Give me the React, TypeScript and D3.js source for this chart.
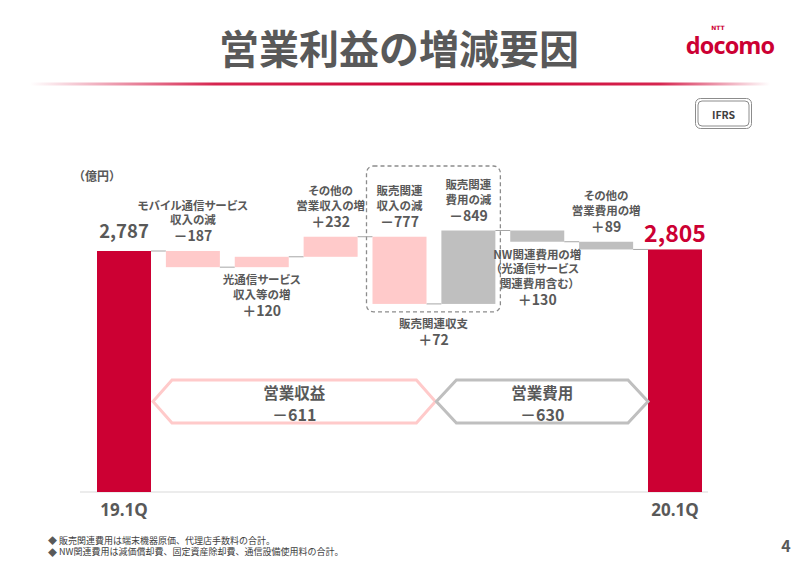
import React from 'react';
import * as d3 from 'd3';

const categories = ['19.1Q', 'モバイル通信サービス収入', '光通信サービス収入等', 'その他の営業収入', '販売関連収入', '販売関連費用', 'NW関連費用', 'その他の営業費用', '20.1Q'];
const kinds = ['total', 'revenue', 'revenue', 'revenue', 'revenue', 'cost', 'cost', 'cost', 'total'];
const values = [2787, -187, 120, 232, -777, 849, -130, -89, 2805];
const valueLabels = ['2,787', '－187', '＋120', '＋232', '－777', '－849', '＋130', '＋89', '2,805'];
const labelLines = [
  [],
  ['モバイル通信サービス', '収入の減'],
  ['光通信サービス', '収入等の増'],
  ['その他の', '営業収入の増'],
  ['販売関連', '収入の減'],
  ['販売関連', '費用の減'],
  ['NW関連費用の増', '（光通信サービス', '関連費用含む）'],
  ['その他の', '営業費用の増'],
  [],
];
const labelSide = ['top', 'top', 'bottom', 'top', 'top', 'top', 'bottom', 'top', 'top'];
const axisLabels = ['19.1Q', '20.1Q'];
const groupNames = ['営業収益', '営業費用'];
const groupValues = ['－611', '－630'];
const salesBoxLabels = ['販売関連収支', '＋72'];
const unitLabel = '（億円）';
const titleText = '営業利益の増減要因';
const footnotes = ['販売関連費用は端末機器原価、代理店手数料の合計。', 'NW関連費用は減価償却費、固定資産除却費、通信設備使用料の合計。'];
const pageNumber = '4';

const FONT = "'Noto Sans CJK JP', 'Noto Sans', sans-serif";
const GRAY_TEXT = '#595959';
const RED = '#CC0033';
const PINK = '#FFCACA';
const GRAY = '#BFBFBF';

export default function App() {
  const y = d3.scaleLinear().domain([0, 2787]).range([492, 251]);
  const x = d3.scaleBand<string>().domain(categories).range([97, 702]).paddingInner(0.216).paddingOuter(0);
  const bw = x.bandwidth();

  const starts: number[] = [];
  const ends: number[] = [];
  let run = 0;
  values.forEach((v, i) => {
    if (kinds[i] === 'total') {
      starts.push(0);
      ends.push(v);
      run = v;
    } else {
      starts.push(run);
      run = run + v;
      ends.push(run);
    }
  });

  const colorOf = (i: number) => (kinds[i] === 'total' ? RED : kinds[i] === 'revenue' ? PINK : GRAY);

  const hex = (l: number, r: number, t: number, b: number, ind: number) => {
    const m = (t + b) / 2;
    return `M${l},${m} L${l + ind},${t} L${r - ind},${t} L${r},${m} L${r - ind},${b} L${l + ind},${b} Z`;
  };

  const hexTop = 380;
  const hexBot = 423;
  const pinkL = (x(categories[0]) as number) + bw + 2;
  const pinkR = (x(categories[5]) as number) - 6;
  const grayL = pinkR + 1;
  const grayR = x(categories[8]) as number;

  const boxL = (x(categories[4]) as number) - 6;
  const boxR = (x(categories[5]) as number) + bw + 5;
  const boxBottom = y(Math.min(ends[4], starts[4])) + 8;

  return (
    <svg width={800} height={565} style={{ position: 'absolute', left: 0, top: 0, background: '#fff' }} fontFamily={FONT}>
      <defs>
        <linearGradient id="redline" x1="0" x2="1" y1="0" y2="0">
          <stop offset="0" stopColor="#fff" />
          <stop offset="0.25" stopColor="#D6254F" />
          <stop offset="0.6" stopColor="#CC0033" />
          <stop offset="0.85" stopColor="#D6254F" />
          <stop offset="1" stopColor="#fff" />
        </linearGradient>
      </defs>

      <text x={399} y={47} textAnchor="middle" dominantBaseline="central" fontSize={40} fontWeight="bold" fill={GRAY_TEXT}>
        {titleText}
      </text>
      <text x={718} y={30} textAnchor="middle" fontSize={6} fontWeight="bold" fill={RED} fontFamily="'DejaVu Sans', sans-serif">NTT</text>
      <text x={730} y={54} textAnchor="middle" fontSize={23.5} fontWeight="bold" fill={RED} letterSpacing={-0.9} fontFamily="'Open Sans', 'DejaVu Sans', sans-serif">docomo</text>
      <rect x={30} y={82.5} width={740} height={3} fill="url(#redline)" />

      <rect x={695.5} y={98.5} width={56} height={30} rx={5} fill="none" stroke="#8C8C8C" strokeWidth={1} />
      <rect x={698} y={101} width={51} height={25} rx={4} fill="none" stroke="#8C8C8C" strokeWidth={1} />
      <text x={723.5} y={114} textAnchor="middle" dominantBaseline="central" fontSize={10.5} fontWeight="bold" fill="#404040">IFRS</text>

      <text x={73} y={175} dominantBaseline="central" fontSize={12} fontWeight="bold" fill={GRAY_TEXT}>{unitLabel}</text>

      <rect x={boxL} y={166} width={boxR - boxL} height={boxBottom - 166} rx={7} fill="none" stroke="#8C8C8C" strokeWidth={1.3} strokeDasharray="4 3" />

      <line x1={80} x2={708} y1={y(0)} y2={y(0)} stroke="#D9D9D9" strokeWidth={1} />

      {categories.slice(0, -1).map((c, i) => (
        <line key={'c' + i} x1={(x(c) as number) + bw} x2={x(categories[i + 1]) as number} y1={y(ends[i])} y2={y(ends[i])} stroke="#A6A6A6" strokeWidth={1} />
      ))}

      {categories.map((c, i) => {
        const top = y(Math.max(starts[i], ends[i]));
        const bot = y(Math.min(starts[i], ends[i]));
        return <rect key={'b' + i} x={x(c)} y={top} width={bw} height={bot - top} fill={colorOf(i)} />;
      })}

      {categories.map((c, i) => {
        const cx = (x(c) as number) + bw / 2;
        const top = y(Math.max(starts[i], ends[i]));
        const bot = y(Math.min(starts[i], ends[i]));
        const lines = labelLines[i];
        if (kinds[i] === 'total') {
          const last = i === categories.length - 1;
          return (
            <text key={'l' + i} x={cx} y={top - (last ? 17 : 21)} textAnchor="middle" dominantBaseline="central" fontSize={last ? 23 : 18.5} fontWeight="bold" fill={last ? RED : GRAY_TEXT}>
              {valueLabels[i]}
            </text>
          );
        }
        if (labelSide[i] === 'top') {
          const numY = top - 16;
          return (
            <g key={'l' + i}>
              {lines.map((t, k) => (
                <text key={k} x={cx} y={numY - 16 - (lines.length - 1 - k) * 14.5} textAnchor="middle" dominantBaseline="central" fontSize={11.5} fontWeight="bold" fill={GRAY_TEXT} style={{ fontFeatureSettings: '"palt"' }}>{t}</text>
              ))}
              <text x={cx} y={numY} textAnchor="middle" dominantBaseline="central" fontSize={14} fontWeight="bold" fill={GRAY_TEXT}>{valueLabels[i]}</text>
            </g>
          );
        }
        const firstY = bot + 12;
        return (
          <g key={'l' + i}>
            {lines.map((t, k) => (
              <text key={k} x={cx} y={firstY + k * 14.5} textAnchor="middle" dominantBaseline="central" fontSize={11.5} fontWeight="bold" fill={GRAY_TEXT} style={{ fontFeatureSettings: '"palt"' }}>{t}</text>
            ))}
            <text x={cx} y={firstY + (lines.length - 1) * 14.5 + 16} textAnchor="middle" dominantBaseline="central" fontSize={14} fontWeight="bold" fill={GRAY_TEXT}>{valueLabels[i]}</text>
          </g>
        );
      })}

      <text x={(boxL + boxR) / 2} y={323} textAnchor="middle" dominantBaseline="central" fontSize={11.5} fontWeight="bold" fill={GRAY_TEXT}>{salesBoxLabels[0]}</text>
      <text x={(boxL + boxR) / 2} y={339} textAnchor="middle" dominantBaseline="central" fontSize={14} fontWeight="bold" fill={GRAY_TEXT}>{salesBoxLabels[1]}</text>

      <path d={hex(pinkL, pinkR, hexTop, hexBot, 19)} fill="#fff" stroke={PINK} strokeWidth={3} />
      <path d={hex(grayL, grayR, hexTop, hexBot, 20)} fill="#fff" stroke={GRAY} strokeWidth={3} />
      {[[pinkL, pinkR], [grayL, grayR]].map(([l, r], i) => (
        <g key={'g' + i}>
          <text x={(l + r) / 2} y={392} textAnchor="middle" dominantBaseline="central" fontSize={15.5} fontWeight="bold" fill={GRAY_TEXT}>{groupNames[i]}</text>
          <text x={(l + r) / 2} y={413.5} textAnchor="middle" dominantBaseline="central" fontSize={16} fontWeight="bold" fill={GRAY_TEXT}>{groupValues[i]}</text>
        </g>
      ))}

      {[categories[0], categories[8]].map((c, i) => (
        <text key={'a' + i} x={(x(c) as number) + bw / 2} y={509} textAnchor="middle" dominantBaseline="central" fontSize={17} fontWeight="bold" fill={GRAY_TEXT} fontFamily="'Open Sans', 'Noto Sans', sans-serif">{axisLabels[i]}</text>
      ))}

      {footnotes.map((f, i) => (
        <text key={'f' + i} x={48} y={540 + i * 11.5} dominantBaseline="central" fontSize={9} fill="#404040">
          <tspan fill="#595959">◆</tspan> {f}
        </text>
      ))}
      <text x={786} y={545} textAnchor="middle" dominantBaseline="central" fontSize={16} fontWeight="bold" fill={GRAY_TEXT}>{pageNumber}</text>
    </svg>
  );
}
